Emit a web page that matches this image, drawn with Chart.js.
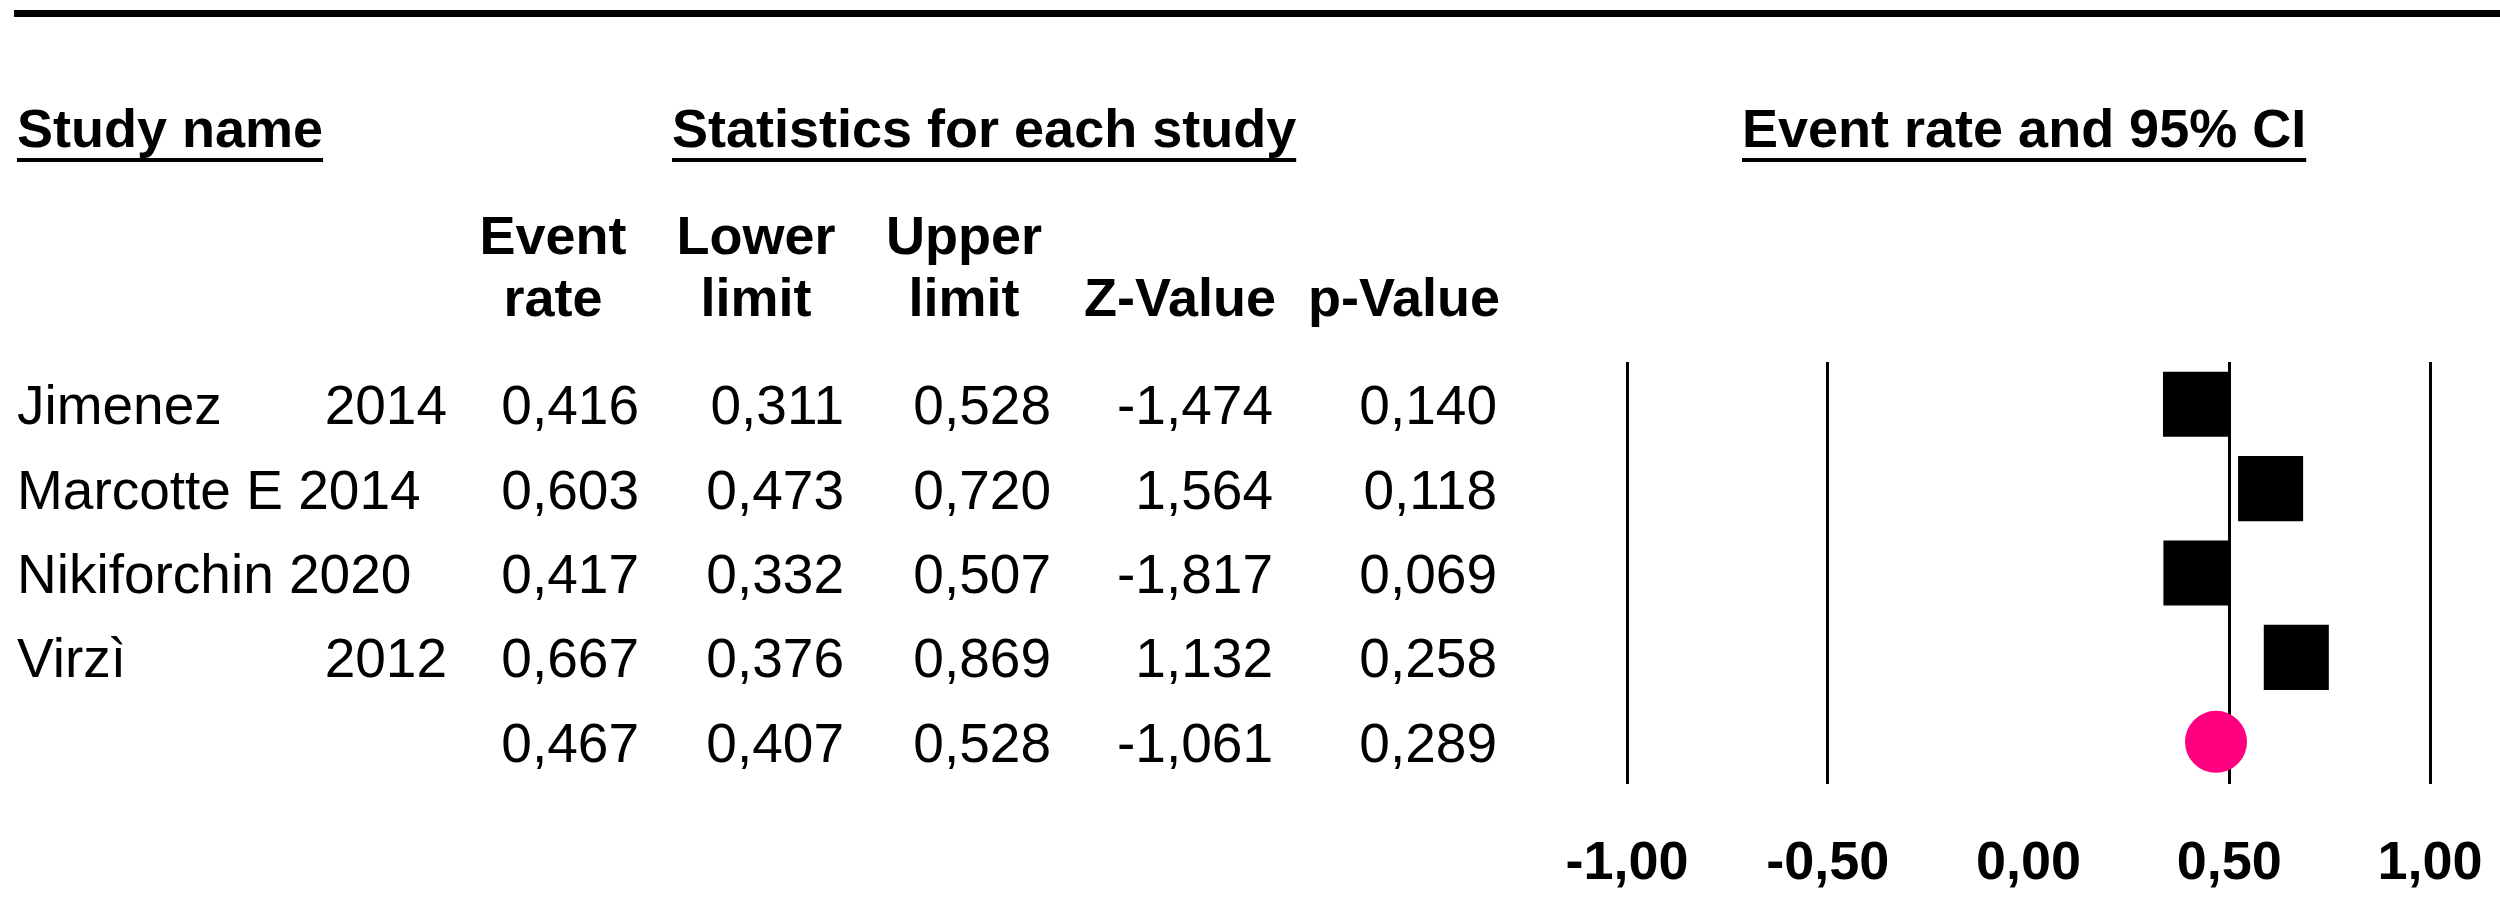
<!DOCTYPE html>
<html>
<head>
<meta charset="utf-8">
<title>Event rate and 95% CI</title>
<script src="https://cdn.jsdelivr.net/npm/chart.js@4.4.0/dist/chart.umd.min.js"></script>
<style>
  html, body { margin: 0; padding: 0; background: #fff; }
  #wrap { width: 2500px; height: 903px; position: relative; }
</style>
</head>
<body>
<div id="wrap"><canvas id="forestChart"></canvas></div>
<script>
// Study labels (last row = pooled estimate, no name)
const studyNames = ['Jimenez', 'Marcotte E', 'Nikiforchin', 'Virzì', ''];
const studyYears = ['2014', '2014', '2020', '2012', ''];

// Statistics for each study
const eventRate = [0.416, 0.603, 0.417, 0.667, 0.467];
const lowerLimit = [0.311, 0.473, 0.332, 0.376, 0.407];
const upperLimit = [0.528, 0.720, 0.507, 0.869, 0.528];
const zValue = [-1.474, 1.564, -1.817, 1.132, -1.061];
const pValue = [0.140, 0.118, 0.069, 0.258, 0.289];

// Axis
const tickValues = [-1, -0.5, 0, 0.5, 1];
const hiddenGridValue = 0;

const FONT = '"Liberation Sans", Arial, sans-serif';
const fmt = (v, d) => v.toFixed(d).replace('.', ',');

const studyCount = studyNames.length - 1;
const studyPoints = eventRate.slice(0, studyCount).map((v, i) => ({ x: v, y: i + 1 }));
const summaryPoints = [{ x: eventRate[studyCount], y: studyCount + 1 }];

// Draw the table part (headers, names, statistics) next to the plot
const tablePlugin = {
    id: 'forestTable',
    afterDraw(chart) {
        const ctx = chart.ctx;
        const yScale = chart.scales.y;
        ctx.save();
        ctx.fillStyle = '#000';

        // thick rule on top
        ctx.fillRect(14, 10, 2486, 7);

        // section titles, underlined
        ctx.font = 'bold 54px ' + FONT;
        ctx.textAlign = 'left';
        ctx.textBaseline = 'alphabetic';
        [['Study name', 17], ['Statistics for each study', 672], ['Event rate and 95% CI', 1742]].forEach(([t, x]) => {
            ctx.fillText(t, x, 147);
            ctx.fillRect(x, 158, ctx.measureText(t).width, 4);
        });

        // column headers
        const colHeads = [['Event', 'rate'], ['Lower', 'limit'], ['Upper', 'limit'], ['', 'Z-Value'], ['', 'p-Value']];
        const headCenters = [553, 756, 964, 1180, 1404];
        ctx.textAlign = 'center';
        colHeads.forEach((lines, c) => {
            ctx.fillText(lines[0], headCenters[c], 254);
            ctx.fillText(lines[1], headCenters[c], 316);
        });

        // rows
        const colRight = [639, 844, 1051, 1273, 1497];
        ctx.font = '55px ' + FONT;
        studyNames.forEach((name, i) => {
            const base = yScale.getPixelForValue(i + 1) + 20;
            ctx.textAlign = 'left';
            ctx.fillText(name, 17, base);
            if (studyYears[i]) {
                const nameEnd = 17 + ctx.measureText(name).width;
                const yearW = ctx.measureText(studyYears[i]).width;
                if (nameEnd + 60 > 447 - yearW) {
                    ctx.fillText(studyYears[i], nameEnd + ctx.measureText(' ').width, base);
                } else {
                    ctx.textAlign = 'right';
                    ctx.fillText(studyYears[i], 447, base);
                }
            }
            ctx.textAlign = 'right';
            [eventRate[i], lowerLimit[i], upperLimit[i], zValue[i], pValue[i]].forEach((v, c) => {
                ctx.fillText(fmt(v, 3), colRight[c], base);
            });
        });
        ctx.restore();
    }
};

const ctx = document.getElementById('forestChart').getContext('2d');
const chart = new Chart(ctx, {
    type: 'scatter',
    data: {
        datasets: [{
            label: 'Studies',
            data: studyPoints,
            pointStyle: 'rect',
            pointRadius: 46,
            pointBackgroundColor: '#000',
            pointBorderWidth: 0
        }, {
            label: 'Pooled',
            data: summaryPoints,
            pointStyle: 'circle',
            pointRadius: 31,
            pointBackgroundColor: '#ff0080',
            pointBorderWidth: 0
        }]
    },
    options: {
        responsive: true,
        maintainAspectRatio: false,
        animation: false,
        events: [],
        layout: { padding: { left: 1627, right: 70, top: 362, bottom: 10 } },
        plugins: { legend: { display: false }, tooltip: { enabled: false } },
        scales: {
            x: {
                type: 'linear',
                min: -1,
                max: 1,
                afterBuildTicks: scale => { scale.ticks = tickValues.map(v => ({ value: v })); },
                afterFit: scale => {
                    // keep the plot area fixed, labels may overflow into the padding
                    scale.height = 109;
                    scale.paddingLeft = 0;
                    scale.paddingRight = 0;
                },
                ticks: {
                    color: '#000',
                    font: { family: FONT, size: 54, weight: 'bold' },
                    padding: 48,
                    maxRotation: 0,
                    autoSkip: false,
                    callback: v => fmt(v, 2)
                },
                grid: {
                    color: c => (c.tick && c.tick.value === hiddenGridValue) ? 'rgba(0,0,0,0)' : '#000',
                    lineWidth: 3,
                    drawTicks: false
                },
                border: { display: false }
            },
            y: {
                type: 'linear',
                display: false,
                reverse: true,
                min: 0.5,
                max: studyNames.length + 0.5
            }
        }
    },
    plugins: [tablePlugin]
});
</script>
</body>
</html>
